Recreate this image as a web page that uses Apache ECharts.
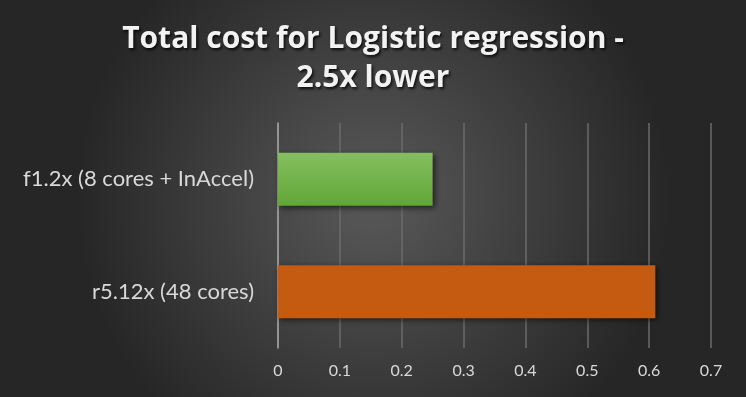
<!DOCTYPE html>
<html><head><meta charset="utf-8">
<script src="https://cdn.jsdelivr.net/npm/echarts@6/dist/echarts.min.js"></script>
<style>html,body{margin:0;padding:0;background:#3a3a3a}#c{width:746px;height:397px}</style>
</head><body><div id="c"></div>
<script>
var titleText = 'Total cost for Logistic regression -\n2.5x lower';
var categories = ['f1.2x (8 cores + InAccel)', 'r5.12x (48 cores)'];
var costValues = [0.25, 0.61];
var xTicks = [0, 0.1, 0.2, 0.3, 0.4, 0.5, 0.6, 0.7];

var barColors = [
  new echarts.graphic.LinearGradient(0, 0, 0, 1, [{offset: 0, color: '#84bf5e'}, {offset: 1, color: '#61a637'}]),
  '#c55a11'
];

var chart = echarts.init(document.getElementById('c'), null, {renderer: 'canvas'});
chart.setOption({
  animation: false,
  backgroundColor: new echarts.graphic.RadialGradient(0.5, 0.5, 0.75, [
    {offset: 0, color: '#595959'},
    {offset: 1, color: '#262626'}
  ]),
  title: {
    text: titleText,
    left: 'center',
    top: 15,
    textStyle: {
      color: '#f2f2f2',
      fontFamily: 'Open Sans',
      fontWeight: 'bold',
      fontSize: 30,
      lineHeight: 39,
      textShadowColor: 'rgba(0,0,0,0.8)',
      textShadowBlur: 3,
      textShadowOffsetX: 1.5,
      textShadowOffsetY: 1.5
    }
  },
  grid: {left: 278, right: 35, top: 123, bottom: 49},
  xAxis: {
    type: 'value',
    min: 0, max: 0.7, interval: 0.1,
    axisLine: {show: false},
    axisTick: {show: false},
    splitLine: {lineStyle: {color: '#6b6b6b', width: 1.5}},
    axisLabel: {
      color: '#d9d9d9', fontFamily: 'Lato', fontSize: 16, margin: 15,
      formatter: function (v) { var r = Math.round(v * 10) / 10; return xTicks.indexOf(r) >= 0 ? String(r) : ''; }
    }
  },
  yAxis: {
    type: 'category',
    inverse: true,
    data: categories,
    axisLine: {show: true, lineStyle: {color: '#a6a6a6', width: 1.5}},
    axisTick: {show: false},
    axisLabel: {color: '#d9d9d9', fontFamily: 'Lato', fontSize: 22, margin: 24}
  },
  series: [{
    type: 'bar',
    barWidth: '47%',
    data: costValues.map(function (v, i) {
      return {value: v, itemStyle: {color: barColors[i]}};
    }),
    itemStyle: {
      shadowColor: 'rgba(0,0,0,0.6)',
      shadowBlur: 6,
      shadowOffsetX: 2,
      shadowOffsetY: 2
    }
  }]
});
</script>
</body></html>
